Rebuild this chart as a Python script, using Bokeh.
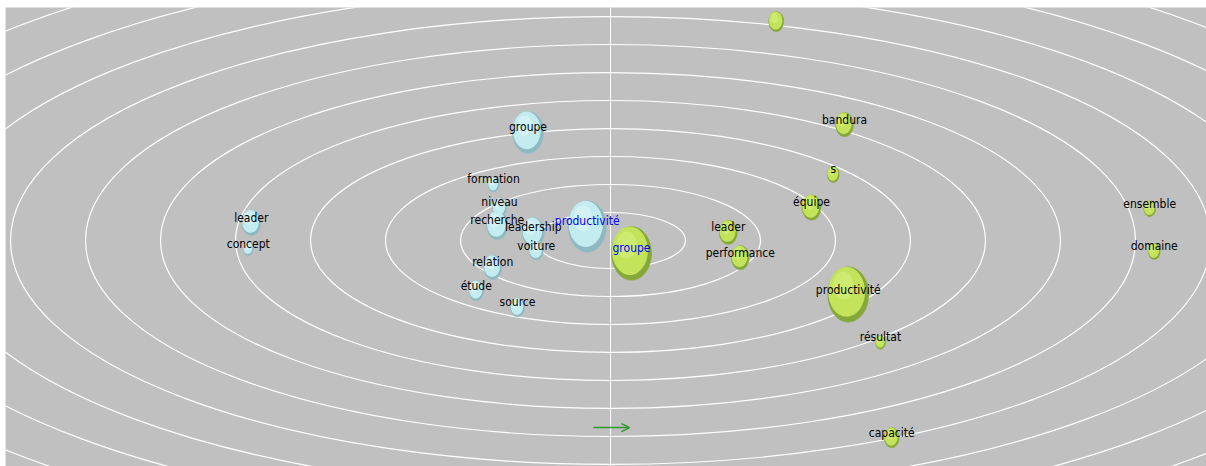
from bokeh.plotting import figure
from bokeh.models import Range1d, ColumnDataSource, Arrow, OpenHead
from bokeh.core.properties import value
from bokeh.embed import file_html
from bokeh.resources import INLINE

# ---- data (orbit units: x horizontal, y vertical, centre at 0,0) ----
blue_words = ["groupe", "formation", "niveau", "recherche", "leadership", "voiture",
              "productivité", "leader", "concept", "relation", "étude", "source"]
blue_x = [-1.10, -1.56, -1.48, -1.51, -1.03, -0.99, -0.31, -4.79, -4.83, -1.57, -1.79, -1.24]
blue_y = [3.86, 2.00, 1.18, 0.54, 0.29, -0.36, 0.50, 0.64, -0.29, -0.96, -1.79, -2.39]
blue_size = [31, 11, 14, 21, 22, 14, 38, 19, 10, 18, 15, 14]
blue_label_color = ["black"] * 6 + ["#0000FF"] + ["black"] * 5

green_words = ["", "bandura", "s", "équipe", "leader", "performance", "groupe",
               "productivité", "résultat", "capacité", "ensemble", "domaine"]
green_x = [2.21, 3.12, 2.97, 2.68, 1.57, 1.73, 0.28, 3.17, 3.60, 3.75, 7.19, 7.25]
green_y = [7.82, 4.14, 2.36, 1.18, 0.29, -0.61, -0.46, -1.93, -3.64, -7.04, 1.14, -0.39]
green_size = [15, 18, 12, 19, 18, 18, 40, 41, 10, 15, 12, 12]
green_label_color = ["black"] * 6 + ["#0000FF"] + ["black"] * 5

orbits = list(range(1, 16))
arrow_start, arrow_end, arrow_y = -0.227, 0.253, -6.68

p = figure(width=1206, height=466, output_backend="svg", toolbar_location=None,
           x_range=Range1d(-8.067, 7.947), y_range=Range1d(-8.071, 8.321),
           min_border_left=5, min_border_top=7, min_border_right=0, min_border_bottom=0)
p.axis.visible = False
p.grid.visible = False
p.outline_line_color = None
p.background_fill_color = "#C0C0C0"
p.border_fill_color = "white"

# orbits and vertical axis line (below the bubbles)
p.ellipse(x=[0] * len(orbits), y=[0] * len(orbits),
          width=[2 * k for k in orbits], height=[2 * k for k in orbits],
          fill_alpha=0, line_color="white", line_width=1.2)
p.segment(x0=[0], y0=[-9], x1=[0], y1=[9], line_color="white", line_width=1)

FONT = value("Liberation Sans Narrow, DejaVu Sans Condensed, Liberation Sans")

def make_src(xs, ys, sizes, words, lcolors):
    w = list(sizes)
    h = [s * 1.35 for s in sizes]
    return ColumnDataSource(dict(
        x=xs, y=ys, w=w, h=h, t=words, c=lcolors,
        w2=[v * 0.9 for v in w], h2=[v * 0.9 for v in h],
        x2=[x - 0.04 * s / 75 for x, s in zip(xs, sizes)],
        y2=[y + 0.05 * s * 1.35 / 28 for y, s in zip(ys, sizes)],
        w3=[v * 0.5 for v in w], h3=[v * 0.5 for v in h],
        x3=[x - 0.12 * s / 75 for x, s in zip(xs, sizes)],
        y3=[y + 0.16 * s * 1.35 / 28 for y, s in zip(ys, sizes)]))

def draw_bubbles(src, edge, base, hi):
    p.ellipse(x="x", y="y", width="w", height="h", width_units="screen", height_units="screen",
              fill_color=edge, line_color=edge, line_alpha=0.5, source=src)
    p.ellipse(x="x2", y="y2", width="w2", height="h2", width_units="screen", height_units="screen",
              fill_color=base, line_color=None, source=src)
    p.ellipse(x="x3", y="y3", width="w3", height="h3", width_units="screen", height_units="screen",
              fill_color=hi, fill_alpha=0.45, line_color=None, source=src)

def draw_labels(src):
    p.text(x="x", y="y", text="t", text_color="c", y_offset=-5,
           text_align="center", text_baseline="middle",
           text_font=FONT, text_font_size="12px", source=src)

blue_src = make_src(blue_x, blue_y, blue_size, blue_words, blue_label_color)
green_src = make_src(green_x, green_y, green_size, green_words, green_label_color)

draw_bubbles(blue_src, "#8DB9C0", "#C3ECF0", "#E6FBFD")
draw_bubbles(green_src, "#86A83A", "#C2E35A", "#DDF58E")
draw_labels(blue_src)
draw_labels(green_src)

p.add_layout(Arrow(end=OpenHead(size=8, line_color="#2E9A2E", line_width=1.5),
                   x_start=arrow_start, y_start=arrow_y, x_end=arrow_end, y_end=arrow_y,
                   line_color="#2E9A2E", line_width=1.5))

open("out.html", "w").write(file_html(p, INLINE))
